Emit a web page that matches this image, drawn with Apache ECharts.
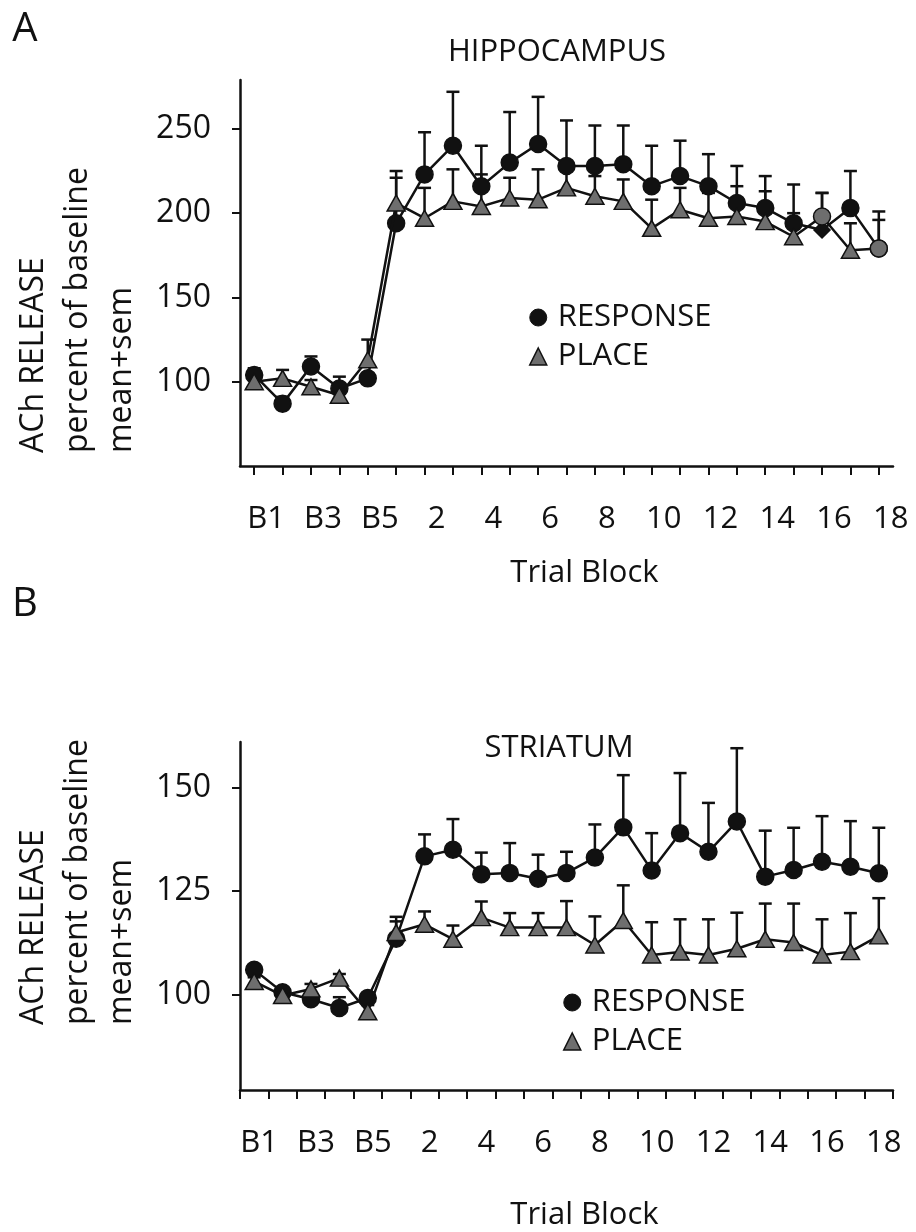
<!DOCTYPE html>
<html>
<head>
<meta charset="utf-8">
<script src="https://cdn.jsdelivr.net/npm/echarts@6/dist/echarts.min.js"></script>
<style>
  html, body { margin: 0; padding: 0; background: #fff; }
  #chart { width: 916px; height: 1232px; }
</style>
</head>
<body>
<div id="chart"></div>
<script>
// Trial blocks: five baseline blocks followed by 18 training blocks
const categories = ['B1','B2','B3','B4','B5','1','2','3','4','5','6','7','8','9','10','11','12','13','14','15','16','17','18'];

// Hippocampus: ACh release (% of baseline), mean and SEM
const hippoResponse    = [104, 87, 109, 96, 102, 194, 223, 240, 216, 230, 241, 228, 228, 229, 216, 222, 216, 206, 203, 194, 190, 203, 179];
const hippoResponseSem = [4, 4, 6, 7, 2, 27, 25, 32, 24, 30, 28, 27, 24, 23, 24, 21, 19, 22, 19, 23, 22, 22, 22];
const hippoPlace       = [100, 102, 97, 92, 113, 206, 197, 207, 204, 209, 208, 215, 210, 207, 191, 202, 197, 198, 195, 186, 198, 178, 179];
const hippoPlaceSem    = [5, 5, 4, 3, 12, 19, 18, 19, 19, 12, 18, 10, 12, 13, 17, 13, 15, 18, 18, 14, 14, 16, 17];

// Striatum: ACh release (% of baseline), mean and SEM
const striResponse    = [106, 100.6, 98.9, 96.8, 99.2, 113.5, 133.4, 135, 129.1, 129.4, 128, 129.4, 133.1, 140.4, 130, 139, 134.5, 141.8, 128.5, 130.1, 132.1, 130.9, 129.3];
const striResponseSem = [1, 0.5, 0.6, 2.6, 0.5, 4.2, 5.3, 7.4, 5.2, 7.2, 5.8, 5.1, 8, 12.6, 9, 14.5, 11.8, 17.7, 11.1, 10.2, 11, 11, 11];
const striPlace       = [103.2, 99.8, 101.4, 104, 95.9, 115, 117, 113.4, 118.6, 116.2, 116.2, 116.2, 112, 117.9, 109.6, 110.3, 109.6, 111.1, 113.4, 112.6, 109.6, 110.4, 114.2];
const striPlaceSem    = [1, 0.5, 1.2, 1, 1.6, 3.8, 3.1, 3.3, 3.9, 3.5, 3.5, 6.4, 6.9, 8.5, 7.9, 7.9, 8.6, 8.7, 8.6, 9.4, 8.6, 9.3, 9.1];

// Y-axis tick values
const hippoTicks = [100, 150, 200, 250];
const striTicks  = [100, 125, 150];

const FONT = '"Open Sans", "Noto Sans", sans-serif';
const INK = '#111';
const GRAY = '#6e6e6e';
const LW = 2.5;

const chart = echarts.init(document.getElementById('chart'), null, { renderer: 'canvas' });

// Upward SEM whiskers with a short cap
function errorBars(means, sems, gridIdx, name) {
  return {
    type: 'custom',
    name: name,
    xAxisIndex: gridIdx,
    yAxisIndex: gridIdx,
    z: 1,
    silent: true,
    itemStyle: { color: INK },
    encode: { x: 0, y: [1, 2] },
    data: means.map((m, i) => [i, m, m + sems[i]]),
    renderItem: function (params, api) {
      const base = api.coord([api.value(0), api.value(1)]);
      const top = api.coord([api.value(0), api.value(2)]);
      const style = { stroke: INK, lineWidth: LW };
      return {
        type: 'group',
        children: [
          { type: 'line', shape: { x1: base[0], y1: base[1], x2: top[0], y2: top[1] }, style: style },
          { type: 'line', shape: { x1: top[0] - 6.5, y1: top[1], x2: top[0] + 6.5, y2: top[1] }, style: style }
        ]
      };
    }
  };
}

function lineSeries(name, values, gridIdx, symbol, fill, overrides) {
  return {
    type: 'line',
    name: name,
    xAxisIndex: gridIdx,
    yAxisIndex: gridIdx,
    z: symbol === 'triangle' ? 4 : 3,
    symbol: symbol,
    symbolSize: symbol === 'triangle' ? [18, 16] : 17,
    showAllSymbol: true,
    animation: false,
    lineStyle: { color: INK, width: LW },
    itemStyle: { color: fill, borderColor: INK, borderWidth: 1.5 },
    emphasis: { disabled: true },
    data: values.map((v, i) => (overrides && overrides[i]) ? Object.assign({ value: v }, overrides[i]) : v)
  };
}

function xAxis(gridIdx, labelShift, alignTicks, nameGap) {
  return {
    type: 'category',
    gridIndex: gridIdx,
    data: categories,
    boundaryGap: true,
    axisLine: { lineStyle: { color: INK, width: LW } },
    axisTick: { show: true, interval: 0, alignWithLabel: alignTicks, length: 9, lineStyle: { color: INK, width: 2 } },
    axisLabel: {
      interval: 1, color: INK, fontSize: 31, fontFamily: FONT, margin: 38,
      padding: [0, 0, 0, labelShift * 2]
    },
    name: 'Trial Block',
    nameLocation: 'middle',
    nameGap: nameGap,
    nameTextStyle: { color: INK, fontSize: 31, fontFamily: FONT, padding: [0, 0, 0, 36] },
    splitLine: { show: false }
  };
}

function yAxis(gridIdx, min, max, ticks) {
  return {
    type: 'value',
    gridIndex: gridIdx,
    min: min,
    max: max,
    axisLine: { show: true, lineStyle: { color: INK, width: LW } },
    axisTick: { show: true, length: 8, customValues: ticks, lineStyle: { color: INK, width: 2 } },
    axisLabel: { customValues: ticks, color: INK, fontSize: 32, fontFamily: FONT, margin: 29 },
    splitLine: { show: false }
  };
}

function yName(x, y) {
  return {
    type: 'text', x: x, y: y, rotation: Math.PI / 2,
    style: {
      text: 'ACh RELEASE\npercent of baseline\nmean+sem',
      font: '32px ' + FONT, fill: INK, align: 'left', verticalAlign: 'bottom', lineHeight: 44
    }
  };
}

function label(text, x, y, size) {
  return {
    type: 'text', x: x, y: y,
    style: { text: text, font: size + 'px ' + FONT, fill: INK, align: 'center', verticalAlign: 'middle' }
  };
}

function legend(left, top) {
  return {
    left: left, top: top, orient: 'vertical', itemGap: 8,
    itemWidth: 17, itemHeight: 17,
    selectedMode: false,
    textStyle: { color: INK, fontSize: 31, fontFamily: FONT, padding: [0, 0, 0, 6] },
    data: [
      { name: 'RESPONSE', icon: 'circle', itemStyle: { color: INK, borderColor: INK, borderWidth: 1 } },
      { name: 'PLACE', icon: 'triangle', itemStyle: { color: GRAY, borderColor: INK, borderWidth: 1.5 } }
    ]
  };
}

const option = {
  backgroundColor: '#fff',
  animation: false,
  grid: [
    { left: 240, top: 80, width: 653, height: 386 },
    { left: 240, top: 742, width: 653, height: 349 }
  ],
  xAxis: [xAxis(0, 12, true, 92), xAxis(1, 5, false, 110)],
  yAxis: [yAxis(0, 50, 279, hippoTicks), yAxis(1, 77, 161, striTicks)],
  legend: [legend(524, 297), legend(558, 982)],
  graphic: [
    label('A', 25, 30, 40),
    label('B', 25, 605, 40),
    label('HIPPOCAMPUS', 557, 52, 31),
    label('STRIATUM', 559, 748, 31),
    yName(144, 453),
    yName(144, 1025)
  ],
  series: [
    errorBars(hippoResponse, hippoResponseSem, 0, 'RESPONSE sem'),
    errorBars(hippoPlace, hippoPlaceSem, 0, 'PLACE sem'),
    lineSeries('RESPONSE', hippoResponse, 0, 'circle', INK, { 20: { symbol: 'diamond', symbolSize: 16 } }),
    lineSeries('PLACE', hippoPlace, 0, 'triangle', GRAY, {
      20: { symbol: 'circle', symbolSize: 17 },
      22: { symbol: 'circle', symbolSize: 17 }
    }),
    errorBars(striResponse, striResponseSem, 1, 'RESPONSE sem'),
    errorBars(striPlace, striPlaceSem, 1, 'PLACE sem'),
    lineSeries('RESPONSE', striResponse, 1, 'circle', INK),
    lineSeries('PLACE', striPlace, 1, 'triangle', GRAY)
  ]
};

chart.setOption(option);
</script>
</body>
</html>
